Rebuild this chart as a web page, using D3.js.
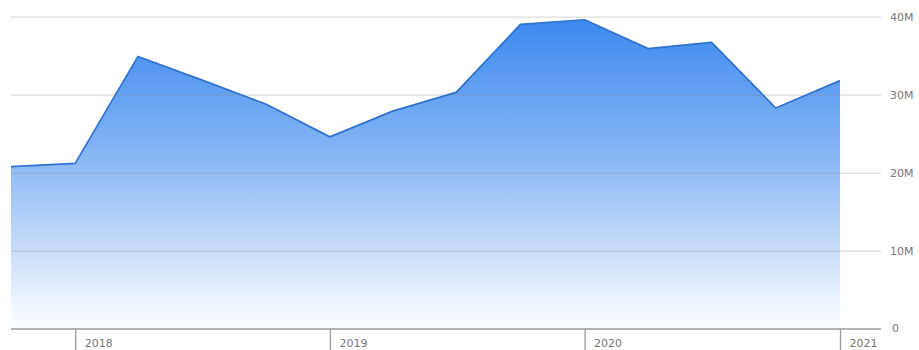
<!DOCTYPE html>
<html>
<head>
<meta charset="utf-8">
<script src="https://cdn.jsdelivr.net/npm/d3@7"></script>
<style>
  html, body { margin: 0; padding: 0; background: #ffffff; }
  svg { display: block; }
  text { font-family: "DejaVu Sans", sans-serif; }
</style>
</head>
<body>
<svg id="chart" width="919" height="350"></svg>
<script>
// ---- data ----
const dates = ["2017-10-01","2018-01-01","2018-04-01","2018-07-01","2018-10-01","2019-01-01","2019-04-01","2019-07-01","2019-10-01","2020-01-01","2020-04-01","2020-07-01","2020-10-01","2021-01-01"];
const values = [20.8, 21.2, 34.9, 31.9, 28.8, 24.6, 27.9, 30.3, 39.0, 39.6, 35.9, 36.7, 28.3, 31.8]; // millions
const yTicks = [0, 10, 20, 30, 40];
const yTickLabels = ["0", "10M", "20M", "30M", "40M"];
const xTicks = ["2018-01-01", "2019-01-01", "2020-01-01", "2021-01-01"];
const xTickLabels = ["2018", "2019", "2020", "2021"];

(function () {
  // ---- layout ----
  const W = 919, H = 350;
  const mLeft = 11, mRight = 840, gridRight = 881, mTop = 16.6, mBottom = 329;
  const parse = d3.timeParse("%Y-%m-%d");
  const data = dates.map((d, i) => ({ date: parse(d), value: values[i] }));
  const FONT = "'DejaVu Sans', sans-serif";

  const x = d3.scaleTime().domain([parse(dates[0]), parse(dates[dates.length - 1])]).range([mLeft, mRight]);
  const y = d3.scaleLinear().domain([0, 40]).range([mBottom, mTop]);

  const svg = d3.select("#chart");
  const defs = svg.append("defs");
  const grad = defs.append("linearGradient")
    .attr("id", "areaGrad")
    .attr("gradientUnits", "userSpaceOnUse")
    .attr("x1", 0).attr("x2", 0)
    .attr("y1", y(40)).attr("y2", y(0));
  grad.append("stop").attr("offset", "0%").attr("stop-color", "#3a88ef");
  grad.append("stop").attr("offset", "45%").attr("stop-color", "#88b7f5");
  grad.append("stop").attr("offset", "75%").attr("stop-color", "#c9ddfa");
  grad.append("stop").attr("offset", "92%").attr("stop-color", "#eef5fe");
  grad.append("stop").attr("offset", "100%").attr("stop-color", "#fbfdff");

  // area
  const area = d3.area().x(d => x(d.date)).y0(y(0)).y1(d => y(d.value));
  svg.append("path").datum(data).attr("d", area).attr("fill", "url(#areaGrad)");

  // gridlines (on top, semi-transparent)
  const yAxis = d3.axisRight(y).tickValues(yTicks.filter(t => t > 0))
    .tickSize(gridRight - mLeft)
    .tickFormat((d) => yTickLabels[yTicks.indexOf(d)]);
  const gy = svg.append("g").attr("transform", `translate(${mLeft},0)`).call(yAxis);
  gy.select(".domain").remove();
  gy.selectAll(".tick line").attr("stroke", "#8f8f8f").attr("stroke-opacity", 0.3).attr("stroke-width", 1.2);
  gy.selectAll(".tick text").attr("x", gridRight - mLeft + 9).attr("fill", "#777").attr("font-size", 11)
    .attr("font-family", FONT).attr("text-anchor", "start");

  // line
  const line = d3.line().x(d => x(d.date)).y(d => y(d.value));
  svg.append("path").datum(data).attr("d", line)
    .attr("fill", "none").attr("stroke", "#3072cf").attr("stroke-width", 1.7).attr("stroke-linejoin", "round");

  // bottom axis line
  svg.append("line").attr("x1", mLeft).attr("x2", gridRight).attr("y1", y(0)).attr("y2", y(0))
    .attr("stroke", "#9a9a9a").attr("stroke-width", 1.3);
  svg.append("text").attr("x", gridRight + 11).attr("y", y(0) - 1).attr("dy", "0.32em")
    .attr("fill", "#777").attr("font-size", 11).attr("font-family", FONT).text(yTickLabels[0]);

  // x ticks
  const xAxis = d3.axisBottom(x).tickValues(xTicks.map(parse)).tickSize(H - mBottom)
    .tickFormat((d, i) => xTickLabels[i]);
  const gx = svg.append("g").attr("transform", `translate(0,${mBottom})`).call(xAxis);
  gx.select(".domain").remove();
  gx.selectAll(".tick line").attr("stroke", "#9a9a9a").attr("stroke-width", 1.3);
  gx.selectAll(".tick text").attr("x", 9).attr("y", 14).attr("dy", "0.32em").attr("text-anchor", "start")
    .attr("fill", "#777").attr("font-size", 11).attr("font-family", FONT);
})();
</script>
</body>
</html>
